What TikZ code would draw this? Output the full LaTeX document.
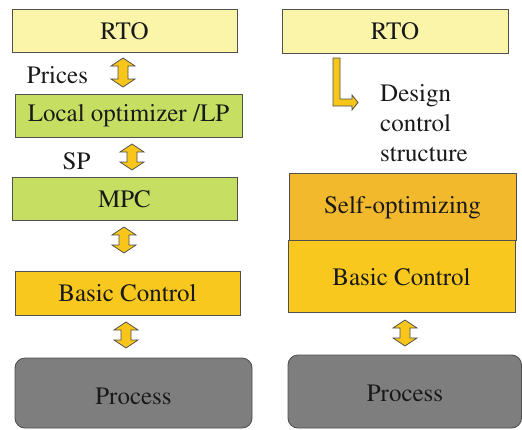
\documentclass[tikz,border=0pt]{standalone}
\usepackage[T1]{fontenc}
\usepackage{mathptmx}
\definecolor{rtoY}{HTML}{FAF5A8}
\definecolor{lpG}{HTML}{C6DE62}
\definecolor{bcY}{HTML}{F8C81E}
\definecolor{soO}{HTML}{F2B92C}
\definecolor{procG}{HTML}{7E7E7E}
\definecolor{edgeC}{HTML}{505050}
\definecolor{arrY}{HTML}{F8C51A}
\newcommand{\udarrow}[3]{%
  \filldraw[blockarrow] (#1-5,#2+8) -- (#1-12,#2+8) -- (#1,#2) -- (#1+12,#2+8) -- (#1+5,#2+8)
   -- (#1+5,#3-8) -- (#1+12,#3-8) -- (#1,#3) -- (#1-12,#3-8) -- (#1-5,#3-8) -- cycle;}
\begin{document}
\begin{tikzpicture}[x=1pt,y=-1pt,
  box/.style={draw=edgeC, line width=0.9pt},
  lbl/.style={font=\fontsize{25}{30}\selectfont, text=black!90, inner sep=0pt},
  blockarrow/.style={fill=arrY, draw=edgeC, line width=0.8pt, line join=miter}]
\useasboundingbox (0,0) rectangle (522,429);
% left column
\draw[box, fill=rtoY] (12,9) rectangle (237,52);
\node[lbl] (rtoL) at (124.5,31) {RTO};
\draw[box, fill=lpG] (15,94) rectangle (242,137);
\node[lbl] (lp) at (128.5,116) {Local optimizer /LP};
\draw[box, fill=lpG] (12,177) rectangle (237,220);
\node[lbl] (mpc) at (124.5,199) {MPC};
\draw[box, fill=bcY] (15,271) rectangle (240,315);
\node[lbl] (bcL) at (127.5,293) {Basic Control};
\draw[box, fill=procG, rounded corners=10pt] (15,358) rectangle (252,428);
\node[lbl] (procL) at (133.5,396) {Process};
\node[lbl] (prices) at (57.5,75) {Prices};
\node[lbl] (sp) at (76.5,161) {SP};
\udarrow{123}{58}{87}
\udarrow{132}{144}{170}
\udarrow{124}{227}{253}
\udarrow{126}{322}{348}
% right column
\draw[box, fill=rtoY] (282,9) rectangle (508,53);
\node[lbl] (rtoR) at (395,31) {RTO};
\draw[box, fill=soO] (289,173) rectangle (516,240);
\node[lbl] (so) at (402.5,208) {Self-optimizing};
\draw[box, fill=bcY] (288,240) rectangle (515,312);
\node[lbl] (bcR) at (401.5,277) {Basic Control};
\draw[box, fill=procG, rounded corners=10pt] (288,355) rectangle (521.5,428);
\node[lbl] (procR) at (405,393) {Process};
\udarrow{405}{320}{346}
\filldraw[blockarrow] (333,58) -- (340,58) -- (340,99) -- (352,99) -- (352,95) -- (358,102.5)
  -- (352,110) -- (352,106) -- (333,106) -- cycle;
\node[lbl, align=left, anchor=north west] (dcs) at (380,84) {Design\\control\\structure};
\end{tikzpicture}
\end{document}
